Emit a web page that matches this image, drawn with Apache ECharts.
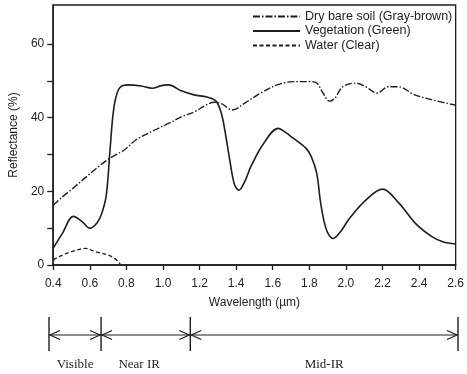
<!DOCTYPE html>
<html>
<head>
<meta charset="utf-8">
<script src="https://cdn.jsdelivr.net/npm/echarts@6/dist/echarts.min.js"></script>
<style>
  html, body { margin: 0; padding: 0; background: #fff; }
  #chart { width: 467px; height: 374px; }
</style>
</head>
<body>
<div id="chart"></div>
<script>
// Axis ticks and labels
const xTicks = [0.4, 0.6, 0.8, 1.0, 1.2, 1.4, 1.6, 1.8, 2.0, 2.2, 2.4, 2.6];
const yTicks = [0, 10, 20, 30, 40, 50, 60];
const yLabels = [0, 20, 40, 60];

// Spectral reflectance curves: [wavelength (µm), reflectance (%)]
const soilCurve = [
  [0.40, 16.2], [0.45, 18.5], [0.50, 20.5], [0.594, 24.5], [0.65, 26.8], [0.71, 29.0],
  [0.79, 31.3], [0.853, 34.0], [0.94, 36.3], [1.033, 38.5], [1.10, 40.2], [1.176, 41.7],
  [1.23, 43.3], [1.28, 44.2], [1.32, 43.8], [1.38, 42.1], [1.445, 43.9], [1.534, 46.7],
  [1.624, 48.9], [1.713, 49.8], [1.80, 49.8], [1.84, 49.4], [1.875, 46.7], [1.91, 44.5],
  [1.94, 45.3], [1.982, 48.4], [2.054, 49.4], [2.108, 48.4], [2.17, 46.7], [2.233, 48.4],
  [2.287, 48.4], [2.377, 46.2], [2.484, 44.7], [2.60, 43.4]
];
const vegetationCurve = [
  [0.40, 4.6], [0.45, 8.6], [0.51, 13.2], [0.558, 11.8], [0.60, 10.0], [0.64, 11.5],
  [0.665, 14.0], [0.69, 19.0], [0.71, 31.0], [0.725, 40.0], [0.74, 45.0], [0.765, 48.2],
  [0.81, 48.9], [0.88, 48.6], [0.94, 48.0], [0.99, 48.7], [1.03, 48.9], [1.10, 47.3],
  [1.17, 46.2], [1.24, 45.6], [1.29, 44.5], [1.32, 41.0], [1.34, 36.0], [1.365, 28.5],
  [1.39, 22.0], [1.415, 20.3], [1.45, 23.0], [1.48, 26.7], [1.55, 33.0], [1.63, 37.1],
  [1.67, 36.0], [1.71, 34.5], [1.78, 31.8], [1.81, 29.5], [1.84, 25.0], [1.86, 17.5],
  [1.88, 12.0], [1.90, 8.8], [1.93, 7.2], [1.97, 9.0], [2.02, 12.7], [2.11, 17.7],
  [2.20, 20.6], [2.29, 16.8], [2.38, 11.3], [2.47, 7.7], [2.53, 6.3], [2.60, 5.7]
];
const waterCurve = [
  [0.40, 1.4], [0.45, 2.7], [0.50, 3.6], [0.576, 4.5], [0.63, 3.6], [0.70, 2.7],
  [0.735, 1.8], [0.755, 0.9], [0.77, 0.0]
];

// Spectral regions below the plot
const bandEdges = [0.4, 0.68, 1.16, 2.6];
const bandNames = ['Visible', 'Near IR', 'Mid-IR'];
const bandLabelAt = [0.54, 0.885, 1.88];

const INK = '#1e1e1e';
const SANS = '"Liberation Sans", Arial, sans-serif';
const SERIF = '"Liberation Serif", "Times New Roman", serif';

// layout constants for the band strip (strip y axis runs 0..55 downward)
const BAR_LEN = 34;
const ARROW_Y = 18;
const LABEL_Y = 48;
const HEAD_LEN = 11;
const HEAD_HALF = 4.5;

const segments = bandEdges.slice(0, -1).map((e, i) => [e, bandEdges[i + 1], 0]);

const chart = echarts.init(document.getElementById('chart'), null, { renderer: 'canvas' });

chart.setOption({
  animation: false,
  backgroundColor: '#fff',
  grid: [
    { left: 49, right: 9, top: 5, bottom: 109, show: true, borderColor: INK, borderWidth: 1.3, backgroundColor: 'transparent' },
    { left: 49, right: 9, top: 317, height: 55 }
  ],
  xAxis: [
    {
      type: 'value', gridIndex: 0, min: 0.4, max: 2.6,
      name: 'Wavelength (\u00b5m)', nameLocation: 'middle', nameGap: 32,
      nameTextStyle: { fontFamily: SANS, fontSize: 12, color: INK },
      axisLine: { show: true, onZero: false, lineStyle: { color: INK, width: 1.5 } },
      axisTick: { show: true, inside: false, length: 5, customValues: xTicks, lineStyle: { color: INK, width: 1.3 } },
      axisLabel: { customValues: xTicks, margin: 13, fontFamily: SANS, fontSize: 12, color: INK,
        formatter: v => v.toFixed(1) },
      splitLine: { show: false }
    },
    {
      type: 'value', gridIndex: 1, min: 0.4, max: 2.6, show: false
    }
  ],
  yAxis: [
    {
      type: 'value', gridIndex: 0, min: 0, max: 70.6,
      name: 'Reflectance (%)', nameLocation: 'middle', nameGap: 30,
      nameTextStyle: { fontFamily: SANS, fontSize: 12, color: INK },
      axisLine: { show: true, lineStyle: { color: INK, width: 1.5 } },
      axisTick: { show: true, inside: false, length: 6, customValues: yTicks, lineStyle: { color: INK, width: 1.3 } },
      axisLabel: { customValues: yLabels, margin: 9, fontFamily: SANS, fontSize: 12, color: INK },
      splitLine: { show: false }
    },
    {
      type: 'value', gridIndex: 1, min: 0, max: 55, inverse: true, show: false
    }
  ],
  legend: {
    orient: 'vertical', left: 247, top: 5,
    itemWidth: 47, itemHeight: 14, itemGap: 1.5,
    itemStyle: { opacity: 0 },
    textStyle: { fontFamily: SANS, fontSize: 12.5, color: INK },
    data: ['Dry bare soil (Gray-brown)', 'Vegetation (Green)', 'Water (Clear)']
  },
  series: [
    {
      name: 'Dry bare soil (Gray-brown)', type: 'line', xAxisIndex: 0, yAxisIndex: 0,
      data: soilCurve, symbol: 'none', smooth: 0.35,
      lineStyle: { color: INK, width: 1.4, type: [7, 2, 1.5, 2] },
      itemStyle: { color: INK }
    },
    {
      name: 'Vegetation (Green)', type: 'line', xAxisIndex: 0, yAxisIndex: 0,
      data: vegetationCurve, symbol: 'none', smooth: 0.35,
      lineStyle: { color: INK, width: 1.6, type: 'solid' },
      itemStyle: { color: INK }
    },
    {
      name: 'Water (Clear)', type: 'line', xAxisIndex: 0, yAxisIndex: 0,
      data: waterCurve, symbol: 'none', smooth: 0.35,
      lineStyle: { color: INK, width: 1.3, type: [4, 2.5] },
      itemStyle: { color: INK }
    },
    {
      // vertical boundary bars between spectral regions
      type: 'custom', xAxisIndex: 1, yAxisIndex: 1, clip: false, silent: true,
      data: bandEdges.map(b => [b, 0]),
      encode: { x: 0, y: 1 },
      renderItem: (params, api) => {
        const p0 = api.coord([api.value(0), 0]);
        const p1 = api.coord([api.value(0), BAR_LEN]);
        return { type: 'line', shape: { x1: p0[0], y1: p0[1], x2: p1[0], y2: p1[1] },
          style: { stroke: INK, lineWidth: 1.4 } };
      }
    },
    {
      // double-headed arrows spanning each region
      type: 'custom', xAxisIndex: 1, yAxisIndex: 1, clip: false, silent: true,
      data: segments,
      encode: { x: [0, 1], y: 2 },
      renderItem: (params, api) => {
        const a = api.coord([api.value(0), ARROW_Y]);
        const b = api.coord([api.value(1), ARROW_Y]);
        const s = { stroke: INK, lineWidth: 1.2, fill: null };
        return {
          type: 'group',
          children: [
            { type: 'line', shape: { x1: a[0], y1: a[1], x2: b[0], y2: b[1] }, style: s },
            { type: 'polyline', shape: { points: [[a[0] + HEAD_LEN, a[1] - HEAD_HALF], [a[0] + 1, a[1]], [a[0] + HEAD_LEN, a[1] + HEAD_HALF]] }, style: s },
            { type: 'polyline', shape: { points: [[b[0] - HEAD_LEN, b[1] - HEAD_HALF], [b[0] - 1, b[1]], [b[0] - HEAD_LEN, b[1] + HEAD_HALF]] }, style: s }
          ]
        };
      }
    },
    {
      // region names
      type: 'custom', xAxisIndex: 1, yAxisIndex: 1, clip: false, silent: true,
      data: bandLabelAt.map((x, i) => [x, i]),
      encode: { x: 0 },
      renderItem: (params, api) => {
        const p = api.coord([api.value(0), LABEL_Y]);
        return { type: 'text', x: p[0], y: p[1],
          style: { text: bandNames[api.value(1)], fill: INK, fontFamily: SERIF, fontSize: 13,
            align: 'center', verticalAlign: 'middle' } };
      }
    }
  ]
});
</script>
</body>
</html>
